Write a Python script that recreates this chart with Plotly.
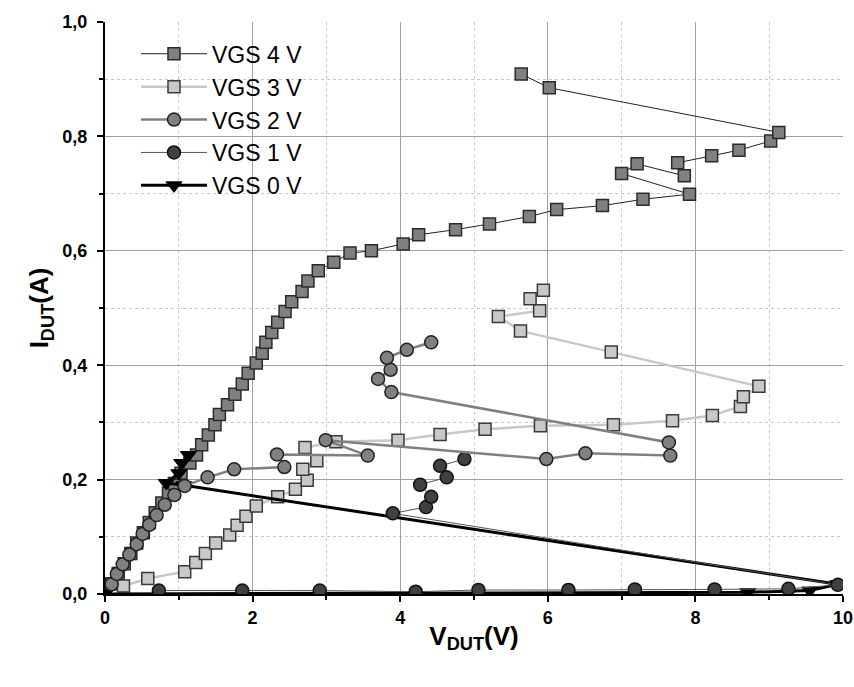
import plotly.graph_objects as go

# ---------------- data ----------------
v_vgs4 = [0.0, 0.09, 0.18, 0.26, 0.35, 0.43, 0.52, 0.60, 0.68, 0.77, 0.86, 0.94, 1.03,
          1.15, 1.24, 1.31, 1.40, 1.49, 1.55, 1.66, 1.76, 1.86, 1.94, 2.05, 2.13, 2.18,
          2.26, 2.34, 2.44, 2.53, 2.67, 2.75, 2.89, 3.10, 3.32, 3.61, 4.04, 4.25, 4.75,
          5.21, 5.75, 6.12, 6.74, 7.29, 7.92, 7.00, 7.21, 7.85, 7.76, 8.22, 8.59, 9.02,
          9.13, 6.02, 5.64]
i_vgs4 = [0.0, 0.018, 0.036, 0.053, 0.071, 0.089, 0.107, 0.125, 0.142, 0.159, 0.176, 0.193,
          0.211, 0.229, 0.243, 0.261, 0.278, 0.296, 0.314, 0.331, 0.349, 0.367, 0.386, 0.404,
          0.421, 0.440, 0.457, 0.475, 0.494, 0.511, 0.529, 0.547, 0.565, 0.580, 0.596, 0.600,
          0.612, 0.628, 0.637, 0.647, 0.660, 0.672, 0.679, 0.690, 0.699, 0.735, 0.752, 0.731,
          0.754, 0.766, 0.776, 0.792, 0.807, 0.885, 0.909]

v_vgs3 = [0.25, 0.58, 1.08, 1.23, 1.36, 1.50, 1.69, 1.79, 1.91, 2.05, 2.34, 2.58, 2.74,
          2.68, 2.87, 2.71, 3.13, 3.97, 4.54, 5.15, 5.90, 6.89, 7.69, 8.23, 8.61, 8.65,
          8.86, 6.86, 5.63, 5.33, 5.89, 5.76, 5.94]
i_vgs3 = [0.014, 0.027, 0.039, 0.055, 0.071, 0.089, 0.103, 0.120, 0.136, 0.154, 0.170,
          0.183, 0.199, 0.218, 0.233, 0.256, 0.266, 0.269, 0.279, 0.288, 0.294, 0.296,
          0.303, 0.312, 0.328, 0.345, 0.363, 0.423, 0.460, 0.485, 0.495, 0.516, 0.531]

v_vgs2 = [0.09, 0.16, 0.24, 0.33, 0.43, 0.51, 0.60, 0.70, 0.81, 0.94, 1.08, 1.39, 1.75,
          2.43, 2.33, 3.56, 2.99, 5.98, 6.51, 7.66, 7.64, 3.88, 3.70, 3.87, 3.82, 4.09, 4.42]
i_vgs2 = [0.017, 0.035, 0.052, 0.069, 0.087, 0.105, 0.121, 0.138, 0.156, 0.173, 0.189,
          0.204, 0.218, 0.222, 0.244, 0.242, 0.269, 0.236, 0.246, 0.242, 0.265, 0.353,
          0.376, 0.392, 0.413, 0.427, 0.440]

v_vgs1 = [0.73, 1.86, 2.91, 4.21, 5.06, 6.28, 7.18, 8.26, 9.26, 9.93,
          3.90, 4.35, 4.42, 4.27, 4.63, 4.54, 4.87]
i_vgs1 = [0.006, 0.006, 0.006, 0.004, 0.007, 0.007, 0.008, 0.008, 0.009, 0.016,
          0.141, 0.152, 0.170, 0.191, 0.204, 0.224, 0.236]

v_vgs0 = [0.0, 8.71, 9.55, 9.93, 1.07, 0.83, 1.00, 1.04, 1.13]
i_vgs0 = [0.0, 0.003, 0.006, 0.017, 0.190, 0.194, 0.211, 0.229, 0.243]

x_label = "V<sub>DUT</sub>(V)"
y_label = "I<sub>DUT</sub>(A)"

FONT = "Liberation Sans, Arial, sans-serif"

# ---------------- figure ----------------
fig = go.Figure()

fig.add_trace(go.Scatter(
    x=v_vgs4, y=i_vgs4, mode="lines+markers", name="VGS 4 V", legendrank=1,
    line=dict(color="#222222", width=1),
    marker=dict(symbol="square", size=12, color="#808080",
                line=dict(color="#2a2a2a", width=1.5))))

fig.add_trace(go.Scatter(
    x=v_vgs3, y=i_vgs3, mode="lines+markers", name="VGS 3 V", legendrank=2,
    line=dict(color="#c8c8c8", width=2.5),
    marker=dict(symbol="square", size=12, color="#c8c8c8",
                line=dict(color="#3a3a3a", width=1.5))))

fig.add_trace(go.Scatter(
    x=v_vgs0, y=i_vgs0, mode="lines+markers", name="VGS 0 V", legendrank=5,
    line=dict(color="#000000", width=3),
    marker=dict(symbol="triangle-down", size=14, color="#000000",
                line=dict(color="#000000", width=1))))

fig.add_trace(go.Scatter(
    x=v_vgs1, y=i_vgs1, mode="lines+markers", name="VGS 1 V", legendrank=4,
    line=dict(color="#555555", width=1),
    marker=dict(symbol="circle", size=13, color="#404040",
                line=dict(color="#111111", width=1.5))))

fig.add_trace(go.Scatter(
    x=v_vgs2, y=i_vgs2, mode="lines+markers", name="VGS 2 V", legendrank=3,
    line=dict(color="#808080", width=2.5),
    marker=dict(symbol="circle", size=13, color="#808080",
                line=dict(color="#222222", width=1.5))))

axis_common = dict(
    showline=True, linecolor="#000000", linewidth=2, mirror=False,
    ticks="outside", ticklen=6, tickwidth=2, tickcolor="#000000",
    showgrid=True, gridcolor="#a0a0a0", gridwidth=1, zeroline=False,
    automargin=False, ticklabeloverflow="allow",
    tickfont=dict(family=FONT, size=18, color="#000000", weight="bold"),
)

fig.update_xaxes(
    range=[0, 10], dtick=2, tick0=0,
    minor=dict(dtick=1, ticks="outside", ticklen=4, tickwidth=1.5, tickcolor="#000000",
               showgrid=True, gridcolor="#c8c8c8", griddash="dot", gridwidth=1),
    title=dict(text=x_label, standoff=0,
               font=dict(family=FONT, size=26, color="#000000", weight="bold")),
    **axis_common)

fig.update_yaxes(
    range=[0, 1.0], dtick=0.2, tick0=0, tickformat=".1f", ticklabelstandoff=6,
    minor=dict(dtick=0.1, ticks="outside", ticklen=4, tickwidth=1.5, tickcolor="#000000",
               showgrid=True, gridcolor="#c8c8c8", griddash="dot", gridwidth=1),
    title=dict(text=y_label, standoff=6,
               font=dict(family=FONT, size=26, color="#000000", weight="bold")),
    **axis_common)

fig.update_layout(
    width=854, height=687,
    margin=dict(l=105, r=11, t=22, b=93),
    plot_bgcolor="#ffffff", paper_bgcolor="#ffffff",
    separators=",.",
    showlegend=True,
    legend=dict(x=0.042, y=0.982, xanchor="left", yanchor="top",
                bgcolor="rgba(255,255,255,0)", borderwidth=0,
                font=dict(family=FONT, size=23, color="#000000"),
                itemwidth=66, tracegroupgap=0),
)

# remove the default page margin so the 854x687 figure fills the window exactly
fig.write_html(
    "out.html",
    config={"displayModeBar": False},
    post_script="document.body.style.margin='0';document.body.style.overflow='hidden';",
)
